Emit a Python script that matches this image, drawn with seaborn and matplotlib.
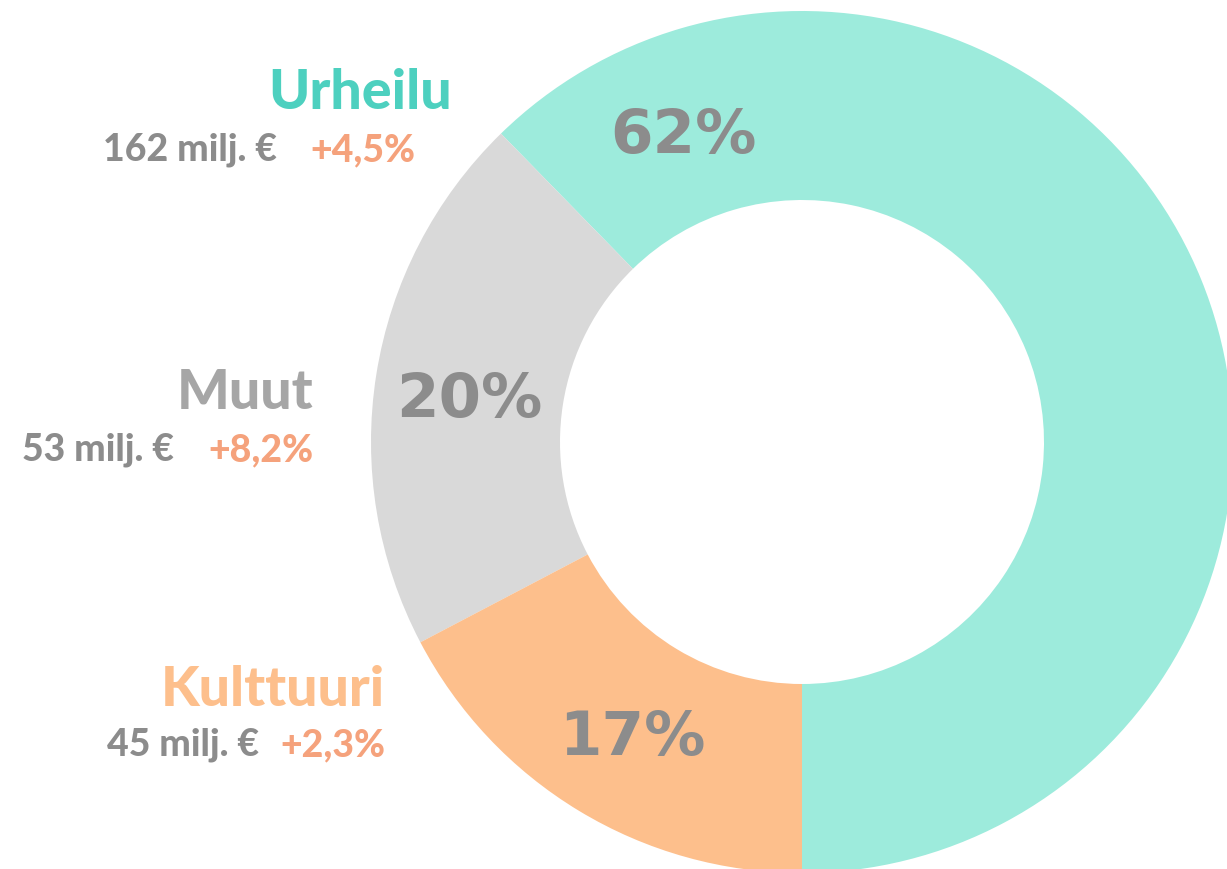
import matplotlib
matplotlib.use("Agg")
import matplotlib.pyplot as plt
import seaborn as sns

# ---- data ----
categories = ["Urheilu", "Muut", "Kulttuuri"]
amounts = [162, 53, 45]            # milj. €
share_labels = ["62%", "20%", "17%"]
changes = ["+4,5%", "+8,2%", "+2,3%"]

# ---- style ----
sns.set_theme(style="white")
plt.rcParams["font.family"] = ["Lato", "DejaVu Sans"]

wedge_colors = ["#9DEBDC", "#D9D9D9", "#FDBF8C"]
title_colors = ["#4DD0BF", "#A6A6A6", "#FDBF8C"]
grey_text = "#8C8C8C"
change_color = "#F5A27C"

W, H = 1227, 869
fig = plt.figure(figsize=(W / 100, H / 100), dpi=100)
ax = fig.add_axes([0, 0, 1, 1])

cx, cy = 802, H - 442
r_out, r_in = 431, 242

ax.pie(amounts, colors=wedge_colors, startangle=270, counterclock=True,
       radius=r_out, center=(cx, cy),
       wedgeprops=dict(width=r_out - r_in, linewidth=0))

ax.set_xlim(0, W)
ax.set_ylim(0, H)
ax.set_aspect("equal")
ax.axis("off")

# layout (pixel coordinates, y from top)
share_pos = [(683, 137), (469, 401), (632, 739)]
title_pos = [(452, 93), (313, 393), (385, 690)]
amount_pos = [(277, 150), (174, 450), (259, 745)]
change_pos = [(415, 150), (313, 450), (385, 745)]

for i, cat in enumerate(categories):
    x, y = share_pos[i]
    ax.text(x, H - y, share_labels[i], ha="center", va="center",
            fontsize=44, fontweight="bold", color=grey_text,
            family=["DejaVu Sans"])
    x, y = title_pos[i]
    ax.text(x, H - y, cat, ha="right", va="center",
            fontsize=40, fontweight="black", color=title_colors[i])
    x, y = amount_pos[i]
    ax.text(x, H - y, f"{amounts[i]} milj. €", ha="right", va="center",
            fontsize=27, fontweight="black", color=grey_text)
    x, y = change_pos[i]
    ax.text(x, H - y, changes[i], ha="right", va="center",
            fontsize=27, fontweight="black", color=change_color)

fig.savefig("out.png", dpi=100)
